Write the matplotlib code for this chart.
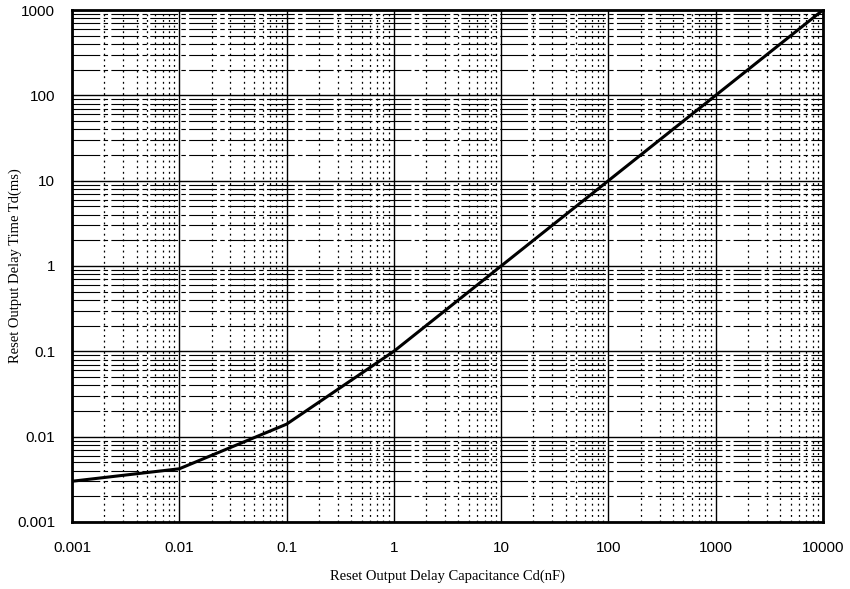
import matplotlib
matplotlib.use('Agg')
import matplotlib.pyplot as plt
from matplotlib.ticker import LogLocator, FuncFormatter, NullFormatter

# 讀圖估值：電容 Cd(nF) 與延遲時間 Td(ms)
電容 = [0.001, 0.01, 0.1, 1, 10, 100, 1000, 10000]
延遲時間 = [0.003, 0.0042, 0.014, 0.1, 1, 10, 100, 1000]
x刻度 = [0.001, 0.01, 0.1, 1, 10, 100, 1000, 10000]
y刻度 = [0.001, 0.01, 0.1, 1, 10, 100, 1000]

fig = plt.figure(figsize=(8.5, 5.89), dpi=100)
ax = fig.add_axes([0.0847, 0.1138, 0.8835, 0.8692])

ax.plot(電容, 延遲時間, color='black', lw=2.2, zorder=5)
ax.set_xscale('log')
ax.set_yscale('log')
ax.set_xlim(0.001, 10000)
ax.set_ylim(0.001, 1000)

ax.set_xticks(x刻度)
ax.set_yticks(y刻度)
fmt = FuncFormatter(lambda v, p: f'{v:g}')
ax.xaxis.set_major_formatter(fmt)
ax.yaxis.set_major_formatter(fmt)
ax.xaxis.set_minor_locator(LogLocator(base=10, subs=range(2, 10), numticks=20))
ax.yaxis.set_minor_locator(LogLocator(base=10, subs=range(2, 10), numticks=20))
ax.xaxis.set_minor_formatter(NullFormatter())
ax.yaxis.set_minor_formatter(NullFormatter())
ax.tick_params(which='both', length=0, labelsize=11)
ax.tick_params(axis='x', pad=14)
ax.tick_params(axis='y', pad=12)
for t in ax.get_xticklabels() + ax.get_yticklabels():
    t.set_family('Liberation Sans')

ax.grid(True, which='major', axis='both', color='black', lw=1.0, ls='-')
ax.grid(True, which='minor', axis='x', color='black', lw=0.9, ls=(0, (1.5, 3)))
ax.grid(True, which='minor', axis='y', color='black', lw=0.8, ls=(0, (25, 3, 4, 3)))

for s in ax.spines.values():
    s.set_linewidth(2)

ax.set_xlabel('Reset Output Delay Capacitance Cd(nF)', family='Liberation Serif', fontsize=10.5, labelpad=10)
ax.set_ylabel('Reset Output Delay Time Td(ms)', family='Liberation Serif', fontsize=10.5)
ax.yaxis.set_label_coords(-0.067, 0.5)

fig.savefig('out.png', dpi=100)
